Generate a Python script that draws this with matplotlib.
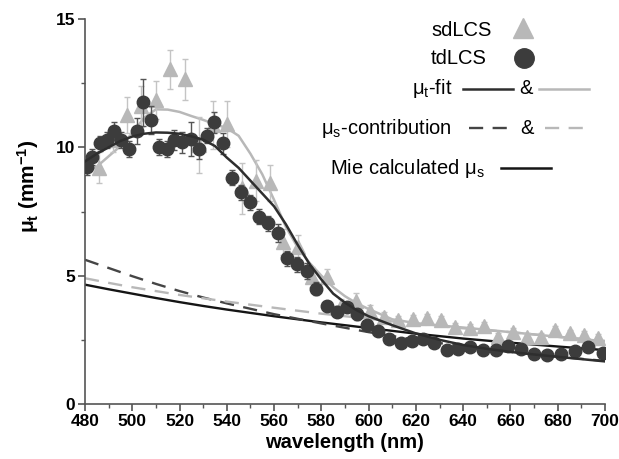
import matplotlib
matplotlib.use('Agg')
import matplotlib.pyplot as plt
from matplotlib.lines import Line2D

plt.rcParams['font.family'] = ['Liberation Sans', 'DejaVu Sans']
plt.rcParams['mathtext.fontset'] = 'custom'
plt.rcParams['mathtext.rm'] = 'Liberation Sans'
plt.rcParams['mathtext.it'] = 'Liberation Sans'
plt.rcParams['mathtext.bf'] = 'Liberation Sans:bold'

# tdLCS measurements (dark circles)
td_wl = [480.7, 483.1, 486.3, 489.2, 492.4, 495.2, 498.6, 501.9, 504.7, 507.9,
         511.3, 514.6, 517.8, 521.2, 524.8, 528.2, 531.5, 534.7, 538.5, 542.3,
         546.0, 549.8, 553.6, 557.5, 561.8, 565.6, 569.8, 573.8, 577.7, 582.2,
         586.5, 590.7, 594.9, 599.4, 604.1, 608.7, 613.5, 618.2, 622.8, 627.6,
         633.0, 637.6, 642.9, 648.5, 653.7, 659.1, 664.4, 669.9, 675.6, 681.2,
         687.3, 692.9, 699.3]
td_mu = [9.24, 9.63, 10.15, 10.28, 10.63, 10.28, 9.93, 10.63, 11.75, 11.06,
         10.02, 9.93, 10.28, 10.19, 10.32, 9.93, 10.45, 10.97, 10.15, 8.82,
         8.25, 7.86, 7.30, 7.04, 6.65, 5.67, 5.44, 5.18, 4.50, 3.82,
         3.60, 3.79, 3.49, 3.08, 2.86, 2.52, 2.36, 2.47, 2.52, 2.39,
         2.10, 2.13, 2.23, 2.10, 2.10, 2.27, 2.13, 1.95, 1.91, 1.95,
         2.08, 2.24, 1.99]
td_err = [0.3, 0.3, 0.3, 0.3, 0.35, 0.3, 0.3, 0.5, 0.9, 0.55,
          0.3, 0.3, 0.4, 0.4, 0.65, 0.4, 0.3, 0.4, 0.4, 0.3,
          0.3, 0.3, 0.3, 0.3, 0.35, 0.3, 0.3, 0.3, 0.25, 0.2,
          0.2, 0.2, 0.2, 0.15, 0.15, 0.15, 0.15, 0.15, 0.15, 0.15,
          0.15, 0.15, 0.15, 0.15, 0.15, 0.15, 0.15, 0.15, 0.15, 0.15,
          0.15, 0.15, 0.15]

# sdLCS measurements (light triangles)
sd_wl = [485.9, 491.8, 497.9, 503.8, 509.9, 516.0, 522.2, 528.1, 534.3, 540.2,
         546.3, 552.4, 558.3, 563.9, 570.1, 576.0, 582.3, 588.4, 594.6, 600.6,
         606.5, 612.5, 618.6, 624.5, 630.6, 636.7, 642.7, 648.7, 654.8, 660.9,
         666.8, 672.9, 678.8, 685.0, 691.1, 697.1]
sd_mu = [9.2, 10.3, 11.27, 11.6, 11.85, 13.04, 12.65, 10.1, 10.87, 10.92,
         8.4, 8.7, 8.6, 6.3, 6.1, 4.95, 4.96, 3.8, 4.02, 3.62,
         3.4, 3.28, 3.3, 3.36, 3.29, 3.0, 2.97, 3.03, 2.6, 2.8,
         2.62, 2.62, 2.88, 2.75, 2.7, 2.57]
sd_err = [0.6, 0.5, 0.7, 0.8, 0.75, 0.75, 0.8, 1.1, 0.95, 0.9,
          1.0, 0.8, 0.7, 0.5, 0.5, 0.4, 0.3, 0.3, 0.3, 0.25,
          0.2, 0.15, 0.15, 0.15, 0.15, 0.15, 0.15, 0.15, 0.15, 0.15,
          0.15, 0.15, 0.15, 0.15, 0.15, 0.15]

# fitted curves
fit_wl = [480, 485, 490, 495, 500, 505, 510, 515, 520, 525, 530, 535, 540, 545,
          550, 555, 560, 565, 570, 575, 580, 585, 590, 595, 600, 610, 620, 630,
          640, 650, 660, 670, 680, 690, 700]
td_fit = [9.45, 9.75, 10.0, 10.25, 10.42, 10.53, 10.58, 10.57, 10.53, 10.43,
          10.3, 10.05, 9.6, 9.2, 8.7, 8.2, 7.7, 7.0, 6.2, 5.45, 4.85, 4.3,
          3.95, 3.65, 3.42, 3.07, 2.75, 2.5, 2.3, 2.15, 2.03, 1.93, 1.84,
          1.75, 1.66]
sd_fit = [8.95, 9.25, 9.65, 10.05, 10.55, 11.15, 11.48, 11.47, 11.38, 11.22,
          11.07, 10.9, 10.75, 10.45, 9.75, 8.95, 7.95, 6.9, 6.1, 5.5, 5.0,
          4.55, 4.2, 3.92, 3.7, 3.3, 3.15, 3.06, 2.98, 2.89, 2.8, 2.71, 2.62,
          2.53, 2.44]

sc_wl = [480, 490, 500, 510, 520, 530, 540, 550, 560, 580, 600, 620, 640, 660, 680, 700]
td_scat = [5.62, 5.3, 4.98, 4.68, 4.4, 4.15, 3.92, 3.71, 3.5, 3.14, 2.8, 2.5,
           2.25, 2.03, 1.84, 1.68]
sd_scat = [4.9, 4.72, 4.55, 4.4, 4.25, 4.12, 3.99, 3.87, 3.75, 3.52, 3.32,
           3.12, 2.95, 2.8, 2.62, 2.46]
mie = [4.65, 4.47, 4.3, 4.13, 3.97, 3.82, 3.68, 3.55, 3.42, 3.18, 2.96, 2.74,
       2.55, 2.39, 2.24, 2.1]

dark = '#3c3c3c'
light = '#b8b8b8'

fig = plt.figure(figsize=(6.19, 4.59), dpi=100)
ax = fig.add_axes([0.1373, 0.1198, 0.8401, 0.8388])

ax.plot(sc_wl, mie, color='#151515', lw=1.7, zorder=2)
ax.plot(sc_wl, td_scat, color='#454545', lw=1.7, dashes=(6, 4), zorder=2)
ax.plot(sc_wl, sd_scat, color=light, lw=1.7, dashes=(6, 4), zorder=2)
ax.plot(fit_wl, sd_fit, color=light, lw=1.8, zorder=3)

ax.errorbar(sd_wl, sd_mu, yerr=sd_err, fmt='^', color=light, ms=10.5,
            mec=light, ecolor='#c4c4c4', elinewidth=1, capsize=2.5, zorder=4)
ax.errorbar(td_wl, td_mu, yerr=td_err, fmt='o', color=dark, ms=9,
            mec=dark, ecolor='#555555', elinewidth=1, capsize=2.5, zorder=5)
ax.plot(fit_wl, td_fit, color='#2e2e2e', lw=1.8, zorder=6)

ax.set_xlim(480, 700)
ax.set_ylim(0, 15)
ax.set_xticks(range(480, 701, 20))
ax.set_xticks(range(490, 700, 20), minor=True)
ax.set_yticks([0, 5, 10, 15])
ax.set_yticks([2.5, 7.5, 12.5], minor=True)
for side in ['top', 'right']:
    ax.spines[side].set_visible(False)
for side in ['left', 'bottom']:
    ax.spines[side].set_color('#555555')
    ax.spines[side].set_linewidth(1.2)
ax.tick_params(which='major', direction='out', length=5, width=1.2,
               color='#555555', labelsize=12.5, pad=2)
ax.tick_params(which='minor', direction='out', length=3, width=1.0,
               color='#555555')
for lab in ax.get_xticklabels() + ax.get_yticklabels():
    lab.set_fontweight('bold')

ax.set_xlabel('wavelength (nm)', fontsize=14.5, fontweight='bold', labelpad=3)
ax.set_ylabel('μ$_\\mathbf{t}$ (mm$^\\mathbf{-1}$)', fontsize=15,
              fontweight='bold')
ax.yaxis.set_label_coords(-0.085, 0.565)

# hand-made legend in figure pixel coordinates
W, H = 619, 459
def fx(px):
    return px / W
def fy(py):
    return 1 - py / H

tk = dict(fontsize=14.5, ha='right', va='center', transform=fig.transFigure)
fig.text(fx(492), fy(31), 'sdLCS', **tk)
fig.text(fx(487), fy(58), 'tdLCS', **tk)
fig.text(fx(452), fy(89), 'μ$_\\mathregular{t}$-fit', **tk)
fig.text(fx(452), fy(128), 'μ$_\\mathregular{s}$-contribution', **tk)
fig.text(fx(485), fy(168), 'Mie calculated μ$_\\mathregular{s}$', **tk)
ak = dict(fontsize=14.5, ha='center', va='center', transform=fig.transFigure)
fig.text(fx(526), fy(89), '&', **ak)
fig.text(fx(527), fy(128), '&', **ak)

fig.add_artist(Line2D([fx(523)], [fy(28)], marker='^', ms=15, color=light,
                      mec=light, transform=fig.transFigure))
fig.add_artist(Line2D([fx(524)], [fy(58)], marker='o', ms=14, color=dark,
                      mec=dark, transform=fig.transFigure))
fig.add_artist(Line2D([fx(463), fx(513)], [fy(89), fy(89)], color='#2e2e2e',
                      lw=1.8, transform=fig.transFigure))
fig.add_artist(Line2D([fx(539), fx(589)], [fy(89), fy(89)], color=light,
                      lw=1.8, transform=fig.transFigure))
fig.add_artist(Line2D([fx(469), fx(509)], [fy(128), fy(128)], color='#454545',
                      lw=1.7, dashes=(6, 4), transform=fig.transFigure))
fig.add_artist(Line2D([fx(545), fx(583)], [fy(128), fy(128)], color=light,
                      lw=1.7, dashes=(6, 4), transform=fig.transFigure))
fig.add_artist(Line2D([fx(501), fx(551)], [fy(168), fy(168)], color='#151515',
                      lw=1.8, transform=fig.transFigure))

fig.savefig('out.png', dpi=100)
